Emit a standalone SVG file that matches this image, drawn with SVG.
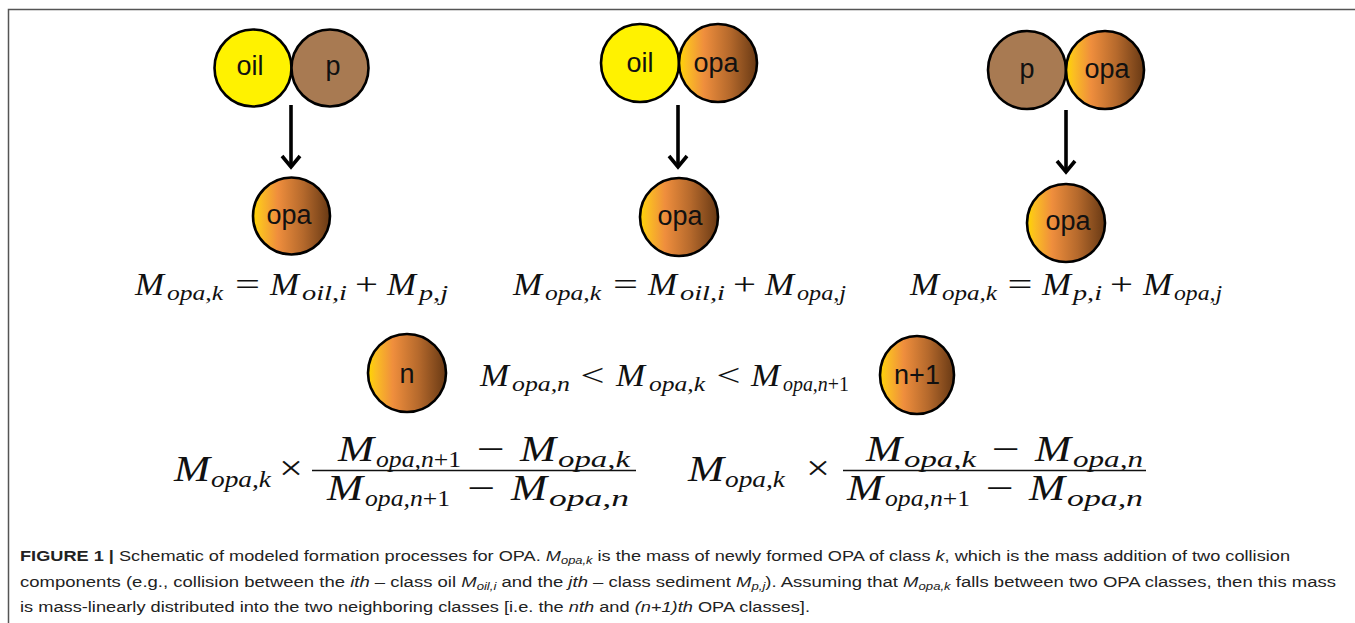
<svg xmlns="http://www.w3.org/2000/svg" width="1355" height="623" viewBox="0 0 1355 623">
<defs>
<linearGradient id="gOpa" x1="0" y1="0" x2="1" y2="0">
<stop offset="0" stop-color="#FFD600"/>
<stop offset="0.1" stop-color="#FBBE22"/>
<stop offset="0.32" stop-color="#EF8E3D"/>
<stop offset="0.65" stop-color="#B5692C"/>
<stop offset="1" stop-color="#683914"/>
</linearGradient>
<marker id="ah" markerUnits="userSpaceOnUse" markerWidth="30" markerHeight="30" refX="15" refY="12" orient="auto">
<path d="M4,3 L15,12 L4,21" fill="none" stroke="#000" stroke-width="3.6"/>
</marker>
<style>
.c{stroke:#000;stroke-width:2.6}
.oil{fill:#FFF200}
.p{fill:#A87A52}
.opa{fill:url(#gOpa)}
.lb{font-family:"Liberation Sans","DejaVu Sans",sans-serif;font-size:27px;fill:#111;text-anchor:middle}
.mi{font-family:"Liberation Serif","DejaVu Serif",serif;font-style:italic;font-size:31px;fill:#111}
.ms{font-family:"Liberation Serif","DejaVu Serif",serif;font-style:italic;font-size:20px;fill:#111}
.mo{font-family:"Liberation Serif","DejaVu Serif",serif;font-size:31px;fill:#111;text-anchor:middle}
.bi{font-family:"Liberation Serif","DejaVu Serif",serif;font-style:italic;font-size:36px;fill:#111}
.bs{font-family:"Liberation Serif","DejaVu Serif",serif;font-style:italic;font-size:24px;fill:#111}
.bo{font-family:"Liberation Serif","DejaVu Serif",serif;font-size:36px;fill:#111;text-anchor:middle}
.up{font-style:normal}
.cap{font-family:"Liberation Sans Narrow","Liberation Sans",Arial,sans-serif;font-size:15.5px;fill:#222}
.capb{font-weight:bold}
.capi{font-style:italic}
.arrow{stroke:#000;stroke-width:3.6;fill:none}
</style>
</defs>
<rect x="0" y="0" width="1355" height="623" fill="#fff"/>
<path d="M8.5,623 V9.5 H1355" fill="none" stroke="#555" stroke-width="1.5"/>

<g id="connectors">
<line class="arrow" x1="291" y1="105" x2="291" y2="167" marker-end="url(#ah)"/>
<line class="arrow" x1="678" y1="105" x2="678" y2="167" marker-end="url(#ah)"/>
<line class="arrow" x1="1066" y1="110" x2="1066" y2="172" marker-end="url(#ah)"/>
</g>

<g id="g1-oil"><circle class="c oil" cx="253" cy="68" r="38.5"/><text class="lb" x="250" y="75">oil</text></g>
<g id="g1-p"><circle class="c p" cx="330" cy="68" r="38.5"/><text class="lb" x="333" y="75">p</text></g>
<g id="g1-opa"><circle class="c opa" cx="291.5" cy="216" r="38.5"/><text class="lb" x="289" y="224">opa</text></g>

<g id="g2-oil"><circle class="c oil" cx="640" cy="63" r="39"/><text class="lb" x="640" y="72">oil</text></g>
<g id="g2-opa"><circle class="c opa" cx="718" cy="63" r="39"/><text class="lb" x="716" y="72">opa</text></g>
<g id="g2-res"><circle class="c opa" cx="679" cy="217" r="39"/><text class="lb" x="680" y="225">opa</text></g>

<g id="g3-p"><circle class="c p" cx="1027" cy="70" r="39"/><text class="lb" x="1027" y="78">p</text></g>
<g id="g3-opa"><circle class="c opa" cx="1105" cy="70" r="39"/><text class="lb" x="1107" y="78">opa</text></g>
<g id="g3-res"><circle class="c opa" cx="1066" cy="223" r="39"/><text class="lb" x="1068" y="230">opa</text></g>

<g id="n-class"><circle class="c opa" cx="407" cy="373" r="39"/><text class="lb" x="407" y="383">n</text></g>
<g id="n1-class"><ellipse class="c opa" cx="917" cy="375" rx="37" ry="39"/><text class="lb" x="917" y="384">n+1</text></g>

<g id="eq1">
<text class="mi" x="135" y="295" textLength="29" lengthAdjust="spacingAndGlyphs">M</text><text class="ms" x="167" y="300" textLength="56" lengthAdjust="spacingAndGlyphs">opa,k</text>
<text class="mo" x="247.5" y="295" textLength="25" lengthAdjust="spacingAndGlyphs">=</text>
<text class="mi" x="270" y="295" textLength="29" lengthAdjust="spacingAndGlyphs">M</text><text class="ms" x="302" y="300" textLength="45" lengthAdjust="spacingAndGlyphs">oil,i</text>
<text class="mo" x="366.5" y="295" textLength="23" lengthAdjust="spacingAndGlyphs">+</text>
<text class="mi" x="387" y="295" textLength="29" lengthAdjust="spacingAndGlyphs">M</text><text class="ms" x="419" y="300" textLength="29" lengthAdjust="spacingAndGlyphs">p,j</text>
</g>
<g id="eq2">
<text class="mi" x="513" y="295" textLength="29" lengthAdjust="spacingAndGlyphs">M</text><text class="ms" x="545" y="300" textLength="56" lengthAdjust="spacingAndGlyphs">opa,k</text>
<text class="mo" x="625.5" y="295" textLength="25" lengthAdjust="spacingAndGlyphs">=</text>
<text class="mi" x="648" y="295" textLength="29" lengthAdjust="spacingAndGlyphs">M</text><text class="ms" x="680" y="300" textLength="45" lengthAdjust="spacingAndGlyphs">oil,i</text>
<text class="mo" x="744.5" y="295" textLength="23" lengthAdjust="spacingAndGlyphs">+</text>
<text class="mi" x="765" y="295" textLength="29" lengthAdjust="spacingAndGlyphs">M</text><text class="ms" x="797" y="300" textLength="49" lengthAdjust="spacingAndGlyphs">opa,j</text>
</g>
<g id="eq3">
<text class="mi" x="910" y="295" textLength="29" lengthAdjust="spacingAndGlyphs">M</text><text class="ms" x="942" y="300" textLength="55" lengthAdjust="spacingAndGlyphs">opa,k</text>
<text class="mo" x="1020" y="295" textLength="25" lengthAdjust="spacingAndGlyphs">=</text>
<text class="mi" x="1042" y="295" textLength="29" lengthAdjust="spacingAndGlyphs">M</text><text class="ms" x="1073" y="300" textLength="29" lengthAdjust="spacingAndGlyphs">p,i</text>
<text class="mo" x="1121.5" y="295" textLength="23" lengthAdjust="spacingAndGlyphs">+</text>
<text class="mi" x="1143" y="295" textLength="29" lengthAdjust="spacingAndGlyphs">M</text><text class="ms" x="1174" y="300" textLength="48" lengthAdjust="spacingAndGlyphs">opa,j</text>
</g>
<g id="ineq">
<text class="mi" x="480" y="386" textLength="29" lengthAdjust="spacingAndGlyphs">M</text><text class="ms" x="512" y="391" textLength="58" lengthAdjust="spacingAndGlyphs">opa,n</text>
<text class="mo" x="592.5" y="386" textLength="24" lengthAdjust="spacingAndGlyphs">&lt;</text>
<text class="mi" x="616" y="386" textLength="29" lengthAdjust="spacingAndGlyphs">M</text><text class="ms" x="649" y="391" textLength="56" lengthAdjust="spacingAndGlyphs">opa,k</text>
<text class="mo" x="728.5" y="386" textLength="24" lengthAdjust="spacingAndGlyphs">&lt;</text>
<text class="mi" x="751" y="386" textLength="29" lengthAdjust="spacingAndGlyphs">M</text><text class="ms" x="783" y="391" textLength="66" lengthAdjust="spacingAndGlyphs">opa,n<tspan class="up">+1</tspan></text>
</g>

<g id="frac-left">
<text class="bi" x="174" y="481" textLength="36" lengthAdjust="spacingAndGlyphs">M</text><text class="bs" x="211" y="487" textLength="60" lengthAdjust="spacingAndGlyphs">opa,k</text>
<text class="bo" x="291" y="480" textLength="24" lengthAdjust="spacingAndGlyphs">×</text>
<line x1="312" y1="470.5" x2="636" y2="470.5" stroke="#111" stroke-width="1.7"/>
<text class="bi" x="338" y="461" textLength="36" lengthAdjust="spacingAndGlyphs">M</text><text class="bs" x="376" y="467" textLength="85" lengthAdjust="spacingAndGlyphs">opa,n<tspan class="up">+1</tspan></text>
<text class="bo" x="490.5" y="461" textLength="28" lengthAdjust="spacingAndGlyphs">−</text>
<text class="bi" x="520" y="461" textLength="36" lengthAdjust="spacingAndGlyphs">M</text><text class="bs" x="558" y="467" textLength="72" lengthAdjust="spacingAndGlyphs">opa,k</text>
<text class="bi" x="327" y="500" textLength="36" lengthAdjust="spacingAndGlyphs">M</text><text class="bs" x="365" y="506" textLength="85" lengthAdjust="spacingAndGlyphs">opa,n<tspan class="up">+1</tspan></text>
<text class="bo" x="481" y="500" textLength="28" lengthAdjust="spacingAndGlyphs">−</text>
<text class="bi" x="511" y="500" textLength="36" lengthAdjust="spacingAndGlyphs">M</text><text class="bs" x="549" y="506" textLength="80" lengthAdjust="spacingAndGlyphs">opa,n</text>
</g>
<g id="frac-right">
<text class="bi" x="688" y="481" textLength="36" lengthAdjust="spacingAndGlyphs">M</text><text class="bs" x="725" y="487" textLength="60" lengthAdjust="spacingAndGlyphs">opa,k</text>
<text class="bo" x="818" y="480" textLength="24" lengthAdjust="spacingAndGlyphs">×</text>
<line x1="843" y1="470.5" x2="1146" y2="470.5" stroke="#111" stroke-width="1.7"/>
<text class="bi" x="866" y="461" textLength="36" lengthAdjust="spacingAndGlyphs">M</text><text class="bs" x="904" y="467" textLength="72" lengthAdjust="spacingAndGlyphs">opa,k</text>
<text class="bo" x="1005.5" y="461" textLength="28" lengthAdjust="spacingAndGlyphs">−</text>
<text class="bi" x="1035" y="461" textLength="36" lengthAdjust="spacingAndGlyphs">M</text><text class="bs" x="1073" y="467" textLength="70" lengthAdjust="spacingAndGlyphs">opa,n</text>
<text class="bi" x="847" y="500" textLength="36" lengthAdjust="spacingAndGlyphs">M</text><text class="bs" x="885" y="506" textLength="85" lengthAdjust="spacingAndGlyphs">opa,n<tspan class="up">+1</tspan></text>
<text class="bo" x="999.5" y="500" textLength="28" lengthAdjust="spacingAndGlyphs">−</text>
<text class="bi" x="1029" y="500" textLength="36" lengthAdjust="spacingAndGlyphs">M</text><text class="bs" x="1067" y="506" textLength="76" lengthAdjust="spacingAndGlyphs">opa,n</text>
</g>

<g id="caption">
<text class="cap" x="20" y="561" textLength="1270" lengthAdjust="spacingAndGlyphs"><tspan class="capb">FIGURE 1 |</tspan> Schematic of modeled formation processes for OPA. <tspan class="capi">M</tspan><tspan class="capi" font-size="11" dy="3">opa,k</tspan><tspan dy="-3"> is the mass of newly formed OPA of class </tspan><tspan class="capi">k</tspan>, which is the mass addition of two collision</text>
<text class="cap" x="20" y="587" textLength="1316" lengthAdjust="spacingAndGlyphs">components (e.g., collision between the <tspan class="capi">ith</tspan> – class oil <tspan class="capi">M</tspan><tspan class="capi" font-size="11" dy="3">oil,i</tspan><tspan dy="-3"> and the </tspan><tspan class="capi">jth</tspan> – class sediment <tspan class="capi">M</tspan><tspan class="capi" font-size="11" dy="3">p,j</tspan><tspan dy="-3">). Assuming that  </tspan><tspan class="capi">M</tspan><tspan class="capi" font-size="11" dy="3">opa,k</tspan><tspan dy="-3"> falls between two OPA classes, then this mass</tspan></text>
<text class="cap" x="20" y="612" textLength="790" lengthAdjust="spacingAndGlyphs">is mass-linearly distributed into the two neighboring classes [i.e. the <tspan class="capi">nth</tspan> and <tspan class="capi">(n+1)th</tspan> OPA classes].</text>
</g>
</svg>
